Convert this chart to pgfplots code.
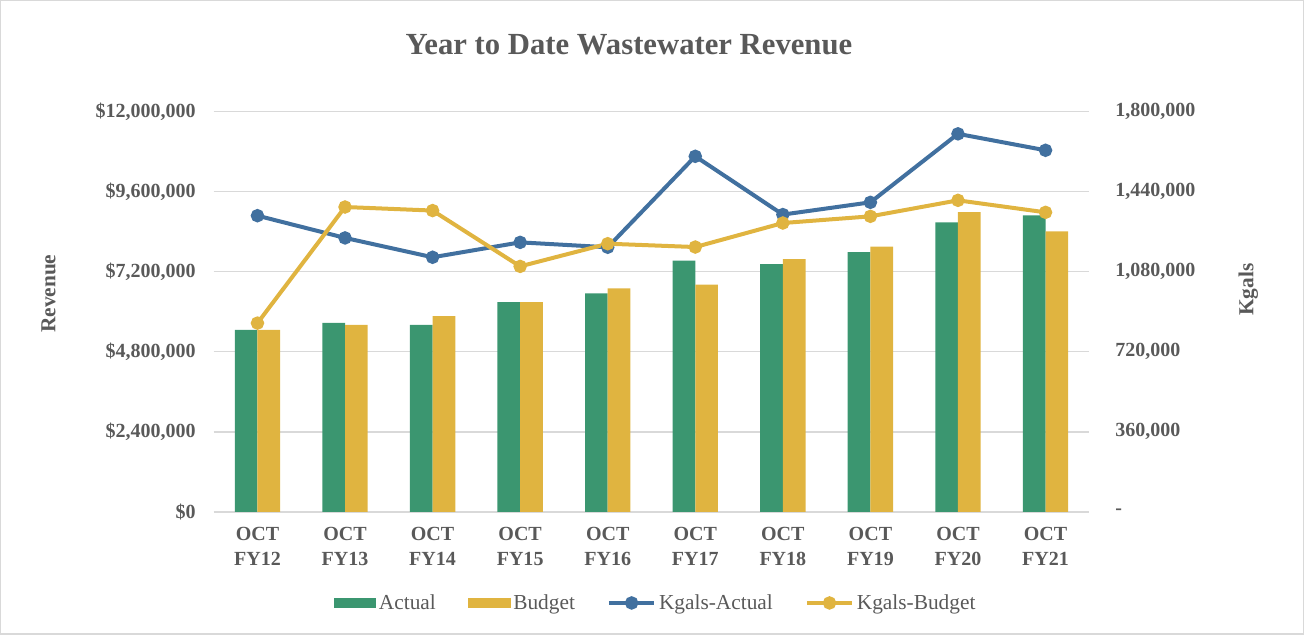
\documentclass[border=0pt]{standalone}
\usepackage{pgfplots}
\pgfplotsset{compat=1.18}
\usepackage{fontspec}
\setmainfont{Liberation Serif}
\definecolor{cgreen}{HTML}{3B9670}
\definecolor{cgold}{HTML}{E0B440}
\definecolor{cblue}{HTML}{41709F}
\definecolor{ctext}{HTML}{595959}
\definecolor{cgrid}{HTML}{D9D9D9}
\begin{document}
\begin{tikzpicture}[x=0.75pt,y=0.75pt]
\path[draw=gray!30, line width=0.8pt] (1,1) rectangle (1303,634);
\pgfplotsset{
  common/.style={
    at={(160.5pt,92.25pt)}, anchor=south west,
    scale only axis, width=656.25pt, height=300pt,
    xmin=-0.5, xmax=9.5,
    axis line style={draw=none},
    major tick length=0pt,
    scaled y ticks=false,
    tick label style={font=\fontsize{15}{19}\selectfont\bfseries, text=ctext},
  },
  lineleg/.style={legend image code/.code={
    \draw[##1, mark repeat=2, mark phase=2] plot coordinates {(0pt,0pt) (17pt,0pt) (34pt,0pt)};}},
  barleg/.style={legend image code/.code={
    \fill[##1, draw=none] (0pt,-3.5pt) rectangle (32pt,3.5pt);}},
}
\begin{axis}[common,
  ymin=0, ymax=12000000,
  ytick={0,2400000,4800000,7200000,9600000,12000000},
  yticklabels={{\$0},{\$2,400,000},{\$4,800,000},{\$7,200,000},{\$9,600,000},{\$12,000,000}},
  yticklabel style={xshift=-10pt},
  ymajorgrids, grid style={cgrid, line width=1pt},
  xtick={0,...,9},
  xticklabels={{OCT\\FY12},{OCT\\FY13},{OCT\\FY14},{OCT\\FY15},{OCT\\FY16},{OCT\\FY17},{OCT\\FY18},{OCT\\FY19},{OCT\\FY20},{OCT\\FY21}},
  xticklabel style={align=center, yshift=-8pt},
  ybar=0pt, bar width=17pt,
]
\addplot[fill=cgreen, draw=none] coordinates {(0,5460000) (1,5670000) (2,5610000) (3,6290000) (4,6550000) (5,7530000) (6,7430000) (7,7790000) (8,8680000) (9,8890000)};
\addplot[fill=cgold, draw=none] coordinates {(0,5460000) (1,5610000) (2,5870000) (3,6290000) (4,6700000) (5,6810000) (6,7580000) (7,7950000) (8,8990000) (9,8410000)};
\end{axis}
\begin{axis}[common,
  ymin=0, ymax=1800000,
  axis y line*=right, axis x line=none,
  ytick={0,360000,720000,1080000,1440000,1800000},
  yticklabels={{-},{360,000},{720,000},{1,080,000},{1,440,000},{1,800,000}},
  yticklabel style={xshift=16pt},
  legend columns=4,
  legend style={at={(0.505,-0.2275)}, anchor=center, draw=none, fill=none,
    font=\fontsize{16}{18}\selectfont, text=ctext,
    /tikz/every even column/.append style={column sep=22pt}},
]
\addlegendimage{barleg, fill=cgreen}
\addlegendentry{Actual}
\addlegendimage{barleg, fill=cgold}
\addlegendentry{Budget}
\addplot[cblue, line width=3pt, mark=*, mark size=3.5pt, lineleg] coordinates {(0,1332000) (1,1232000) (2,1145000) (3,1212000) (4,1190000) (5,1599000) (6,1337000) (7,1392000) (8,1700000) (9,1626000)};
\addlegendentry{Kgals-Actual}
\addplot[cgold, line width=3pt, mark=*, mark size=3.5pt, lineleg] coordinates {(0,849000) (1,1371000) (2,1355000) (3,1104000) (4,1206000) (5,1191000) (6,1299000) (7,1329000) (8,1401000) (9,1347000)};
\addlegendentry{Kgals-Budget}
\end{axis}
\node[font=\fontsize{23}{26}\selectfont\bfseries, text=ctext] at (629,590) {Year to Date Wastewater Revenue};
\node[rotate=90, font=\fontsize{16}{18}\selectfont\bfseries, text=ctext] at (49,341) {Revenue};
\node[rotate=90, font=\fontsize{16}{18}\selectfont\bfseries, text=ctext] at (1248,345) {Kgals};
\end{tikzpicture}
\end{document}
